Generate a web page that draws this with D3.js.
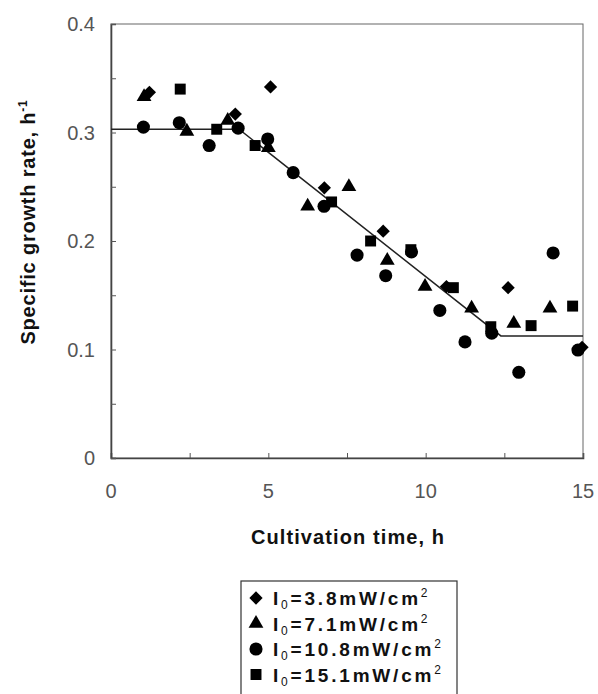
<!DOCTYPE html>
<html><head><meta charset="utf-8">
<script src="https://cdn.jsdelivr.net/npm/d3@7"></script>
<style>
  body{margin:0;background:#fff;}
  svg{display:block;font-family:"Liberation Sans",Arial,sans-serif;}
</style></head>
<body><div id="chart"></div>
<script>
// data: [time h, specific growth rate 1/h]
const s38 = [[1.22,0.337],[3.95,0.317],[5.07,0.342],[6.78,0.249],[8.65,0.209],[10.66,0.158],[12.62,0.157],[14.97,0.102]];
const s71 = [[1.05,0.333],[2.41,0.301],[3.71,0.311],[5.0,0.286],[6.25,0.232],[7.56,0.25],[8.78,0.182],[9.98,0.158],[11.46,0.138],[12.8,0.124],[13.95,0.138]];
const s108 = [[1.03,0.305],[2.17,0.309],[3.12,0.288],[4.04,0.304],[4.98,0.294],[5.79,0.263],[6.77,0.232],[7.82,0.187],[8.73,0.168],[9.55,0.19],[10.45,0.136],[11.25,0.107],[12.1,0.115],[12.96,0.079],[14.05,0.189],[14.84,0.0995]];
const s151 = [[2.2,0.34],[3.36,0.303],[4.58,0.288],[7.01,0.236],[8.25,0.2],[9.53,0.192],[10.88,0.157],[12.07,0.121],[13.35,0.122],[14.67,0.14]];
const fitLine = [[0,0.303],[4.07,0.303],[12.39,0.1125],[15,0.1125]];
const legendText = ['3.8','7.1','10.8','15.1'];
const xTicks = [0,5,10,15], yTicks = [0,0.1,0.2,0.3,0.4];

const W = 598, H = 694;
const m = {l:111, r:15, t:24, b:236};
const svg = d3.select('#chart').append('svg').attr('width', W).attr('height', H);
const x = d3.scaleLinear().domain([0,15]).range([m.l, W - m.r]);
const y = d3.scaleLinear().domain([0,0.4]).range([H - m.b, m.t]);

// frame
svg.append('rect').attr('x', x(0)).attr('y', y(0.4)).attr('width', x(15)-x(0)).attr('height', y(0)-y(0.4))
  .attr('fill','none').attr('stroke','#666').attr('stroke-width',1);

// axes with inward ticks
const gx = svg.append('g').attr('transform', `translate(0,${y(0)})`)
  .call(d3.axisBottom(x).tickValues(d3.range(0,15.01,2.5)).tickSize(-5).tickFormat(''));
const gy = svg.append('g').attr('transform', `translate(${x(0)},0)`)
  .call(d3.axisLeft(y).tickValues(d3.range(0,0.401,0.05)).tickSize(-5).tickFormat(''));
[gx, gy].forEach(g => { g.select('.domain').attr('stroke','#444').attr('stroke-width',1.6);
  g.selectAll('.tick line').attr('stroke','#555'); });

svg.append('g').selectAll('text').data(xTicks).join('text')
  .attr('x', d => x(d)).attr('y', y(0) + 40).attr('text-anchor','middle')
  .attr('font-size', 20).attr('fill','#555').text(d => d);
svg.append('g').selectAll('text').data(yTicks).join('text')
  .attr('x', x(0) - 16).attr('y', d => y(d) + 7).attr('text-anchor','end')
  .attr('font-size', 20).attr('fill','#555').text(d => d === 0 ? '0' : d3.format('.1f')(d));

svg.append('text').attr('x', 348).attr('y', 544).attr('text-anchor','middle')
  .attr('font-size', 20).attr('font-weight','bold').attr('letter-spacing', 1.1)
  .attr('fill','#111').text('Cultivation time, h');
const yt = svg.append('text').attr('transform','translate(35,222) rotate(-90)').attr('text-anchor','middle')
  .attr('font-size', 20).attr('font-weight','bold').attr('letter-spacing', 0.8).attr('fill','#111');
yt.append('tspan').text('Specific growth rate, h');
yt.append('tspan').attr('dy',-8).attr('font-size',12).text('-1');

// fitted line
svg.append('path').datum(fitLine)
  .attr('d', d3.line().x(d => x(d[0])).y(d => y(d[1])))
  .attr('fill','none').attr('stroke','#222').attr('stroke-width',1.5);

// markers
const shapes = {
  diamond: d3.symbol().type(d3.symbolSquare).size(88),
  triangle: d3.symbol().type(d3.symbolTriangle).size(95),
  circle: d3.symbol().type(d3.symbolCircle).size(135),
  square: d3.symbol().type(d3.symbolSquare).size(120)
};
const series = [
  {data: s38, shape: 'diamond', rot: 45},
  {data: s71, shape: 'triangle', rot: 0},
  {data: s108, shape: 'circle', rot: 0},
  {data: s151, shape: 'square', rot: 0}
];
series.forEach(s => {
  svg.append('g').selectAll('path').data(s.data).join('path')
    .attr('d', shapes[s.shape]())
    .attr('transform', d => `translate(${x(d[0])},${y(d[1])}) rotate(${s.rot})`)
    .attr('fill','#000');
});

// legend
const lg = svg.append('g');
lg.append('rect').attr('x', 241).attr('y', 581).attr('width', 216).attr('height', 120)
  .attr('fill','#fff').attr('stroke','#333').attr('stroke-width',1.2);
series.forEach((s, i) => {
  const cy = 598 + i * 25.5;
  lg.append('path').attr('d', shapes[s.shape]())
    .attr('transform', `translate(256,${cy}) rotate(${s.rot})`).attr('fill','#000');
  const t = lg.append('text').attr('x', 273).attr('y', cy + 7).attr('font-size', 19)
    .attr('font-weight','bold').attr('letter-spacing', 2.8).attr('fill','#111');
  t.append('tspan').text('I');
  t.append('tspan').attr('dy', 4).attr('font-size', 12).attr('font-weight','normal').text('0');
  t.append('tspan').attr('dy', -4).text(`=${legendText[i]}mW/cm`);
  t.append('tspan').attr('dy', -8).attr('font-size', 12).attr('font-weight','normal').text('2');
});
</script></body></html>
